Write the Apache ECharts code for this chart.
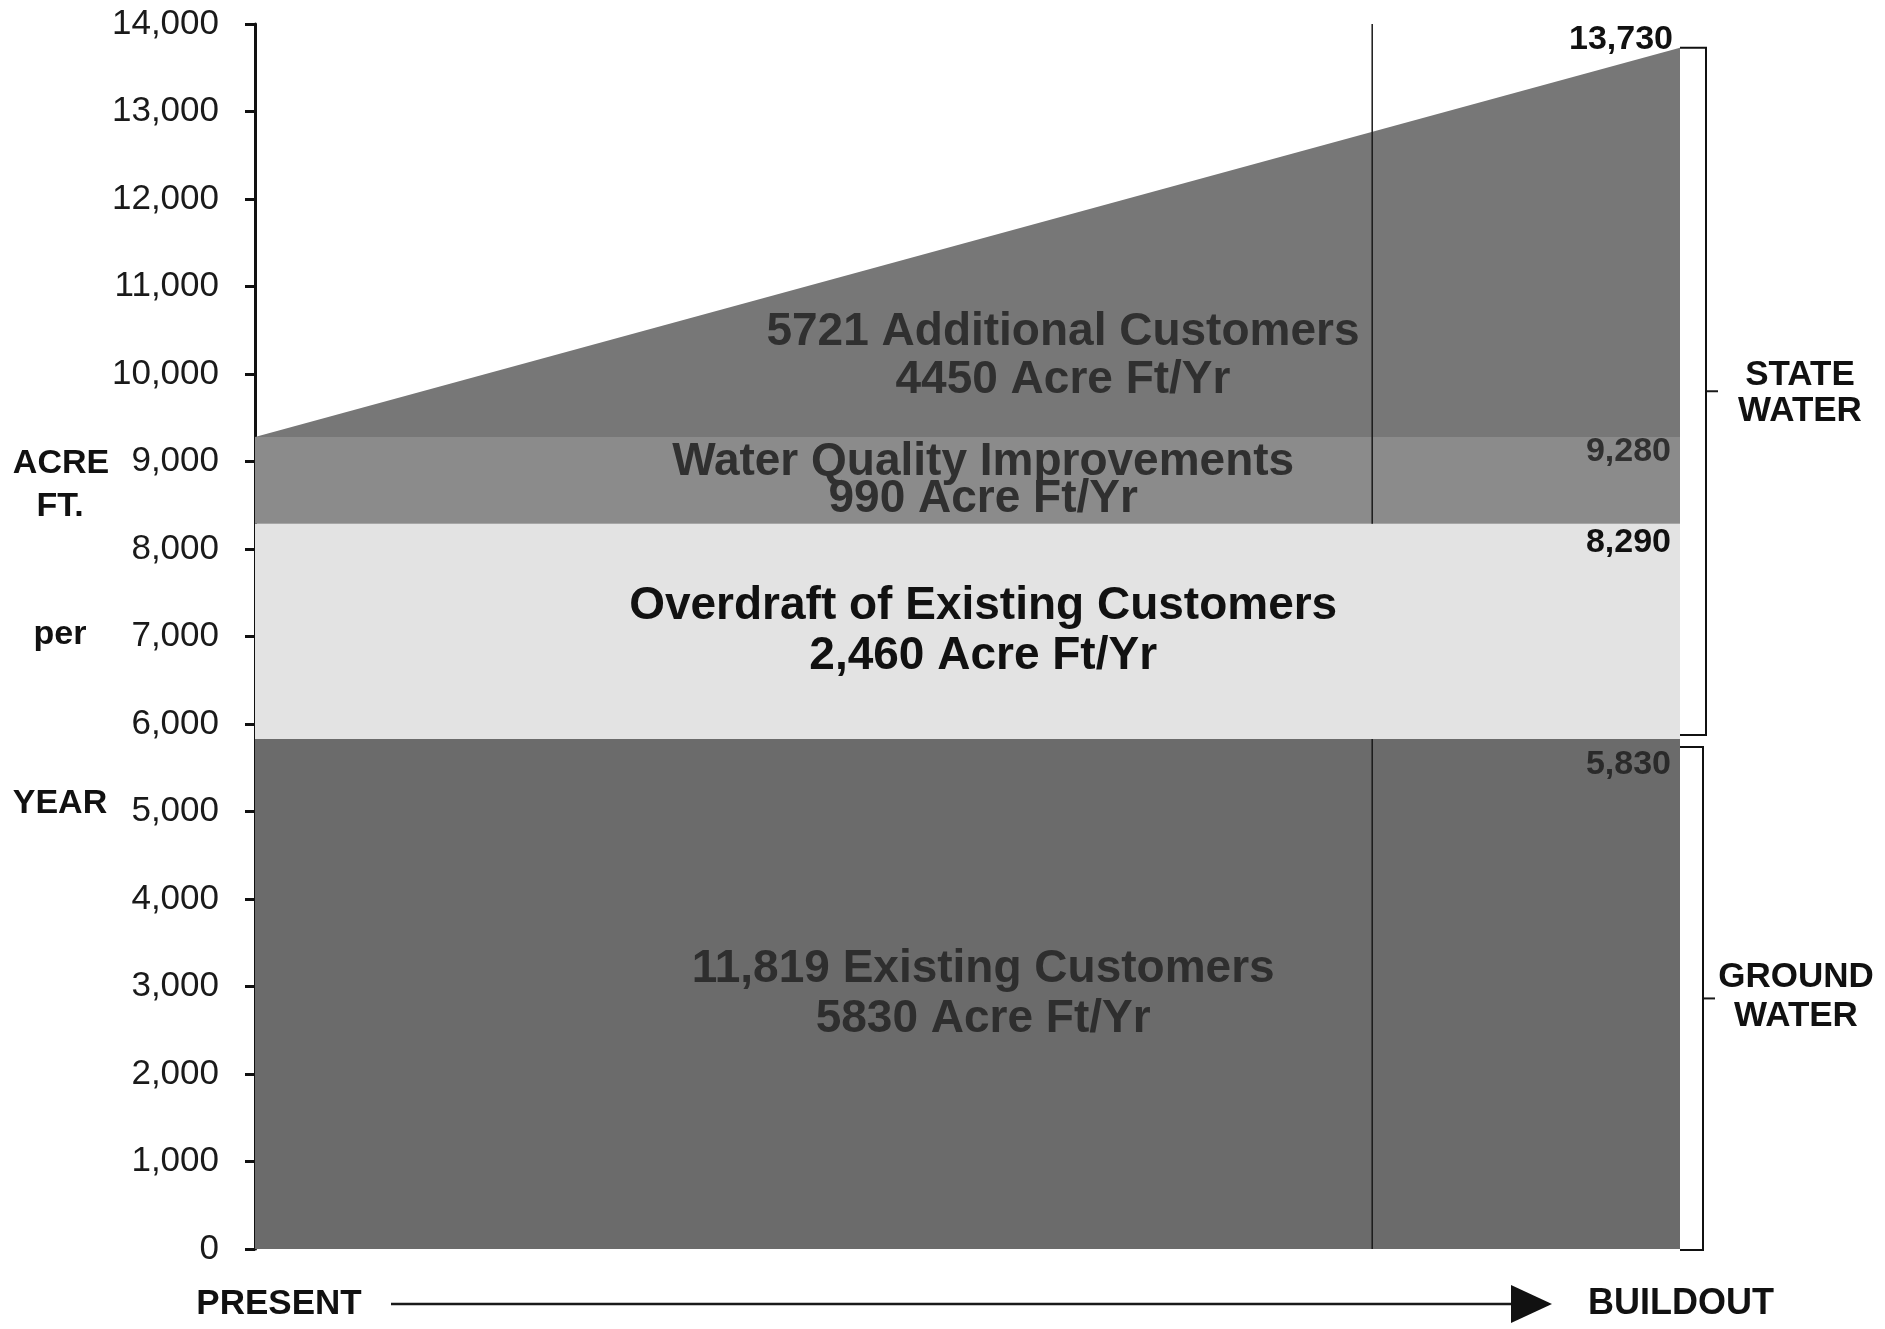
<!DOCTYPE html>
<html>
<head>
<meta charset="utf-8">
<title>Water demand: present to buildout</title>
<script src="https://cdn.jsdelivr.net/npm/echarts@6.0.0/dist/echarts.min.js"></script>
<style>
  html, body { margin: 0; padding: 0; background: #fff; }
  #chart { width: 1885px; height: 1329px; }
</style>
</head>
<body>
<div id="chart"></div>
<script>
// two ends of the time line
var xLabels = ['PRESENT', 'BUILDOUT'];
// stacked bands, acre ft per year
var groundWater = [5830, 5830];   // existing customers
var overdraft = [2460, 2460];
var quality = [990, 990];
var additional = [0, 4450];
var yMin = 0, yMax = 14000, yStep = 1000;

var bandTitles = ['11,819 Existing Customers', 'Overdraft of Existing Customers', 'Water Quality Improvements', '5721 Additional Customers'];
var bandSubs = ['5830 Acre Ft/Yr', '2,460 Acre Ft/Yr', '990 Acre Ft/Yr', '4450 Acre Ft/Yr'];
var bandColors = ['#6b6b6b', '#e3e3e3', '#8b8b8b', '#777777'];

var FONT = '"Liberation Sans", Arial, Helvetica, sans-serif';

var layers = [groundWater, overdraft, quality, additional];
// level totals at buildout
var levels = [];
var run = 0;
layers.forEach(function (l) { run += l[l.length - 1]; levels.push(run); });

var series = layers.map(function (d, i) {
  return {
    name: bandTitles[i],
    type: 'line',
    stack: 'water',
    data: d,
    symbol: 'none',
    silent: true,
    lineStyle: { width: 0 },
    areaStyle: { color: bandColors[i], opacity: 1 }
  };
});

var option = {
  animation: false,
  backgroundColor: '#fff',
  grid: { left: 255, right: 205, top: 24, bottom: 80 },
  xAxis: { type: 'category', data: xLabels, boundaryGap: false, show: false },
  yAxis: {
    type: 'value',
    min: yMin,
    max: yMax,
    interval: yStep,
    axisLine: { show: true, lineStyle: { color: '#111', width: 3 } },
    axisTick: { show: true, length: 10, lineStyle: { color: '#111', width: 3 } },
    splitLine: { show: false },
    axisLabel: {
      fontSize: 35,
      fontFamily: FONT,
      color: '#1a1a1a',
      margin: 36,
      formatter: function (v) { return v.toLocaleString('en-US'); }
    }
  },
  series: series
};

var chart = echarts.init(document.getElementById('chart'));
chart.setOption(option);

function py(v) { return chart.convertToPixel({ gridIndex: 0 }, [0, v])[1]; }
var leftX = chart.convertToPixel({ gridIndex: 0 }, [0, 0])[0];
var rightX = chart.convertToPixel({ gridIndex: 0 }, [1, 0])[0];
// position along the time line, 0 = present, 1 = buildout
function fx(f) { return leftX + f * (rightX - leftX); }

var g = [];
function txt(x, y, text, size, color, align, lh) {
  g.push({
    type: 'text', x: x, y: y, z: 100, silent: true,
    style: {
      text: text, fill: color, font: 'bold ' + size + 'px ' + FONT,
      align: align || 'center', verticalAlign: 'middle', lineHeight: lh || size
    }
  });
}
function seg(x1, y1, x2, y2, w) {
  g.push({
    type: 'line', z: 50, silent: true,
    shape: { x1: x1, y1: y1, x2: x2, y2: y2 },
    style: { stroke: '#1a1a1a', lineWidth: w }
  });
}

// thin vertical line on the scan (not over the light band)
var scanF = 0.784;
seg(fx(scanF), py(0), fx(scanF), py(levels[0]), 1.5);
seg(fx(scanF), py(levels[1]), fx(scanF), py(yMax), 1.5);

// band labels
var bandPos = [[0.511, 2915], [0.511, 7060], [0.511, 8785], [0.567, 10206]];
var bandLh = [50, 50, 37, 48];
var bandTxt = ['#2e2e2e', '#111', '#303030', '#303030'];
bandPos.forEach(function (p, i) {
  txt(fx(p[0]), py(p[1]), bandTitles[i] + '\n' + bandSubs[i], 46, bandTxt[i], 'center', bandLh[i]);
});

// level values at the buildout edge
var lvlOffset = [26, 19, 15, -8];
var lvlColor = ['#2a2a2a', '#111', '#303030', '#111'];
levels.forEach(function (v, i) {
  txt(rightX - 9 + (i === 3 ? 2 : 0), py(v) + lvlOffset[i], v.toLocaleString('en-US'), 34, lvlColor[i], 'right');
});

// brackets
function bracket(yTop, yBot, xv) {
  var mid = (yTop + yBot) / 2;
  g.push({
    type: 'polyline', z: 100, silent: true,
    shape: { points: [[rightX, yTop], [xv, yTop], [xv, yBot], [rightX, yBot]] },
    style: { stroke: '#111', lineWidth: 2, fill: null }
  });
  seg(xv, mid, xv + 12, mid, 2);
}
var yTopLevel = py(levels[3]);
var ySplit = py(levels[0]);
var yBase = py(0);
bracket(yTopLevel, ySplit - 4, rightX + 26);
bracket(ySplit + 8, yBase + 1, rightX + 23);
txt(1800, 375, 'STATE', 35, '#111');
txt(1800, 411, 'WATER', 35, '#111');
txt(1796, 977, 'GROUND', 35, '#111');
txt(1796, 1016, 'WATER', 35, '#111');

// left axis caption
txt(61, 464, 'ACRE', 34, '#111');
txt(60, 507, 'FT.', 34, '#111');
txt(60, 635, 'per', 34, '#111');
txt(60, 804, 'YEAR', 34, '#111');

// time arrow
txt(279, 1304, xLabels[0], 35, '#111');
txt(1681, 1304, xLabels[1], 36, '#111');
seg(391, 1304, 1515, 1304, 2.5);
g.push({
  type: 'polygon', z: 100, silent: true,
  shape: { points: [[1511, 1285], [1552, 1304], [1511, 1323]] },
  style: { fill: '#111' }
});

chart.setOption({ graphic: g });
</script>
</body>
</html>
